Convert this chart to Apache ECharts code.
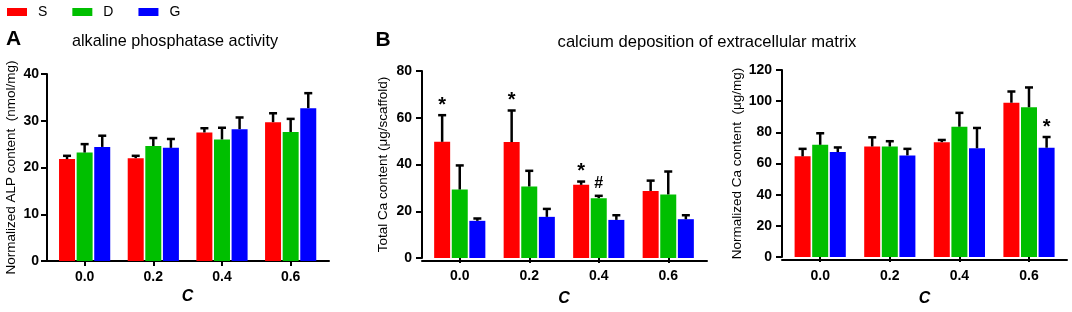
<!DOCTYPE html>
<html><head><meta charset="utf-8">
<script src="https://cdn.jsdelivr.net/npm/echarts@6/dist/echarts.min.js"></script>
<style>html,body{margin:0;padding:0;background:#fff}#c{width:1072px;height:312px}</style>
</head><body><div id="c"></div><script>
// ---------- data ----------
const categories = ['0.0', '0.2', '0.4', '0.6'];
const groups = ['S', 'D', 'G'];
const xName = 'C';

// Panel A: alkaline phosphatase activity
const alpTitle = 'alkaline phosphatase activity';
const alpYName = 'Normalized ALP content  (nmol/mg)';
const alpTicks = [0, 10, 20, 30, 40];
const alpS = [21.8, 22.0, 27.5, 29.7];
const alpD = [23.2, 24.6, 26.0, 27.6];
const alpG = [24.4, 24.2, 28.2, 32.7];
const alpSsd = [0.7, 0.5, 0.9, 1.9];
const alpDsd = [1.8, 1.7, 2.5, 2.8];
const alpGsd = [2.4, 1.9, 2.5, 3.2];
const alpSmark = ['', '', '', ''];
const alpDmark = ['', '', '', ''];
const alpGmark = ['', '', '', ''];

// Panel B title
const caTitle = 'calcium deposition of extracellular matrix';

// Panel B left: total Ca content
const totYName = 'Total Ca content (\u03bcg/scaffold)';
const totTicks = [0, 20, 40, 60, 80];
const totS = [49.7, 49.6, 31.3, 28.7];
const totD = [29.3, 30.6, 25.6, 27.2];
const totG = [15.9, 17.6, 16.3, 16.6];
const totSsd = [11.4, 13.5, 1.4, 4.4];
const totDsd = [10.3, 6.7, 1.0, 9.8];
const totGsd = [1.0, 3.4, 2.0, 1.7];
const totSmark = ['*', '*', '*', ''];
const totDmark = ['', '', '#', ''];
const totGmark = ['', '', '', ''];

// Panel B right: normalized Ca content
const normYName = 'Normalized Ca content  (\u03bcg/mg)';
const normTicks = [0, 20, 40, 60, 80, 100, 120];
const normS = [64.6, 70.9, 73.7, 99.0];
const normD = [72.0, 70.9, 83.6, 96.1];
const normG = [67.3, 65.2, 69.8, 70.1];
const normSsd = [4.8, 5.9, 1.4, 7.2];
const normDsd = [7.4, 3.4, 8.9, 12.7];
const normGsd = [3.0, 4.2, 13.0, 6.9];
const normSmark = ['', '', '', ''];
const normDmark = ['', '', '', ''];
const normGmark = ['', '', '', '*'];

// ---------- styling / layout ----------
const FONT = '"Liberation Sans", Arial, Helvetica, sans-serif';
const colors = ['#ff0000', '#00bf00', '#0000ff'];
const BAR_W = 16;
const BAR_GAP = 0.1;

const panels = [
  { means: [alpS, alpD, alpG], sds: [alpSsd, alpDsd, alpGsd], marks: [alpSmark, alpDmark, alpGmark],
    ticks: alpTicks, yName: alpYName,
    L: { axisX: 47, axisEnd: 329, top: 74, bottom: 261, barLeft: 50.3, barW: 274.7, yLabelMargin: 8, yNameGap: 29, xNameGap: 28, xLabelMargin: 9 } },
  { means: [totS, totD, totG], sds: [totSsd, totDsd, totGsd], marks: [totSmark, totDmark, totGmark],
    ticks: totTicks, yName: totYName,
    L: { axisX: 422, axisEnd: 707, top: 71, bottom: 261, barLeft: 425, barW: 278, yLabelMargin: 10, yNameGap: 32, xNameGap: 33, xLabelMargin: 11 } },
  { means: [normS, normD, normG], sds: [normSsd, normDsd, normGsd], marks: [normSmark, normDmark, normGmark],
    ticks: normTicks, yName: normYName,
    L: { axisX: 782, axisEnd: 1067, top: 70, bottom: 260, barLeft: 785.4, barW: 278.4, yLabelMargin: 10, yNameGap: 38, xNameGap: 34, xLabelMargin: 12 } }
];

const grid = [], xAxis = [], yAxis = [], series = [];
panels.forEach((p, pi) => {
  const L = p.L;
  const h = L.bottom - L.top;
  const bi = pi * 2, fi = pi * 2 + 1;
  grid.push({ left: L.barLeft, top: L.top, width: L.barW, height: h });
  grid.push({ left: L.axisX, top: L.top, width: L.axisEnd - L.axisX, height: h });
  xAxis.push({
    type: 'category', gridIndex: bi, data: categories,
    axisLine: { show: false },
    axisTick: { show: true, alignWithLabel: true, length: 5, lineStyle: { color: '#000', width: 2 } },
    axisLabel: { color: '#000', fontFamily: FONT, fontSize: 14, fontWeight: 'bold', margin: L.xLabelMargin },
    name: xName, nameLocation: 'middle', nameGap: L.xNameGap,
    nameTextStyle: { color: '#000', fontFamily: FONT, fontSize: 16, fontWeight: 'bold', fontStyle: 'italic' },
    splitLine: { show: false }
  });
  xAxis.push({
    type: 'value', gridIndex: fi, min: 0, max: 1,
    axisLine: { show: true, lineStyle: { color: '#000', width: 2 } },
    axisTick: { show: false }, axisLabel: { show: false }, splitLine: { show: false }
  });
  const t = p.ticks;
  yAxis.push({
    type: 'value', gridIndex: bi, min: t[0], max: t[t.length - 1], interval: t[1] - t[0],
    offset: L.barLeft - L.axisX,
    axisLine: { show: true, lineStyle: { color: '#000', width: 2 } },
    axisTick: { show: true, length: 6, lineStyle: { color: '#000', width: 2 } },
    axisLabel: { color: '#000', fontFamily: FONT, fontSize: 14, fontWeight: 'bold', margin: L.yLabelMargin },
    splitLine: { show: false },
    name: p.yName, nameLocation: 'middle', nameGap: L.yNameGap,
    nameTextStyle: { color: '#000', fontFamily: FONT, fontSize: 13.5 }
  });
  yAxis.push({ type: 'value', gridIndex: fi, show: false, min: 0, max: 1 });

  groups.forEach((g, gi) => {
    series.push({
      type: 'bar', name: g, xAxisIndex: bi, yAxisIndex: bi,
      data: p.means[gi], barWidth: BAR_W, barGap: (BAR_GAP * 100) + '%',
      itemStyle: { color: colors[gi] }, z: 2
    });
  });
  groups.forEach((g, gi) => {
    const means = p.means[gi], sds = p.sds[gi], marks = p.marks[gi];
    series.push({
      type: 'custom', name: g + ' error', xAxisIndex: bi, yAxisIndex: bi, z: 5, clip: false,
      encode: { x: 0, y: [1, 2] },
      data: categories.map((c, i) => [i, means[i], means[i] + sds[i]]),
      renderItem: function (params, api) {
        const ci = api.value(0);
        const p0 = api.coord([ci, api.value(1)]);
        const p1 = api.coord([ci, api.value(2)]);
        const x = p0[0] + (gi - 1) * BAR_W * (1 + BAR_GAP);
        const children = [
          { type: 'line', shape: { x1: x, y1: p0[1], x2: x, y2: p1[1] }, style: { stroke: '#000', lineWidth: 2.5 } },
          { type: 'line', shape: { x1: x - 4, y1: p1[1], x2: x + 4, y2: p1[1] }, style: { stroke: '#000', lineWidth: 2.5 } }
        ];
        const m = marks[params.dataIndex];
        if (m) {
          children.push({ type: 'text', x: x, y: p1[1] - (m === '*' ? 0 : 4),
            style: { text: m, fill: '#000', font: 'bold ' + (m === '*' ? 20 : 16) + 'px ' + FONT, align: 'center', verticalAlign: 'bottom' } });
        }
        return { type: 'group', children: children };
      }
    });
  });
});

const option = {
  animation: false,
  backgroundColor: '#fff',
  color: colors,
  legend: {
    data: groups, icon: 'rect', itemWidth: 20, itemHeight: 8, left: 7, top: 5, padding: 0, itemGap: 25,
    textStyle: { color: '#000', fontFamily: FONT, fontSize: 14, padding: [0, 0, 0, 6] }
  },
  grid: grid, xAxis: xAxis, yAxis: yAxis, series: series,
  graphic: [
    { type: 'text', x: 6, y: 39.5, style: { text: 'A', fill: '#000', font: 'bold 21px ' + FONT, align: 'left', verticalAlign: 'middle' } },
    { type: 'text', x: 175, y: 42, style: { text: alpTitle, fill: '#000', font: '16.2px ' + FONT, align: 'center', verticalAlign: 'middle' } },
    { type: 'text', x: 375.5, y: 40.5, style: { text: 'B', fill: '#000', font: 'bold 21px ' + FONT, align: 'left', verticalAlign: 'middle' } },
    { type: 'text', x: 707, y: 42, style: { text: caTitle, fill: '#000', font: '16.6px ' + FONT, align: 'center', verticalAlign: 'middle' } }
  ]
};
const chart = echarts.init(document.getElementById('c'));
chart.setOption(option);
</script></body></html>
